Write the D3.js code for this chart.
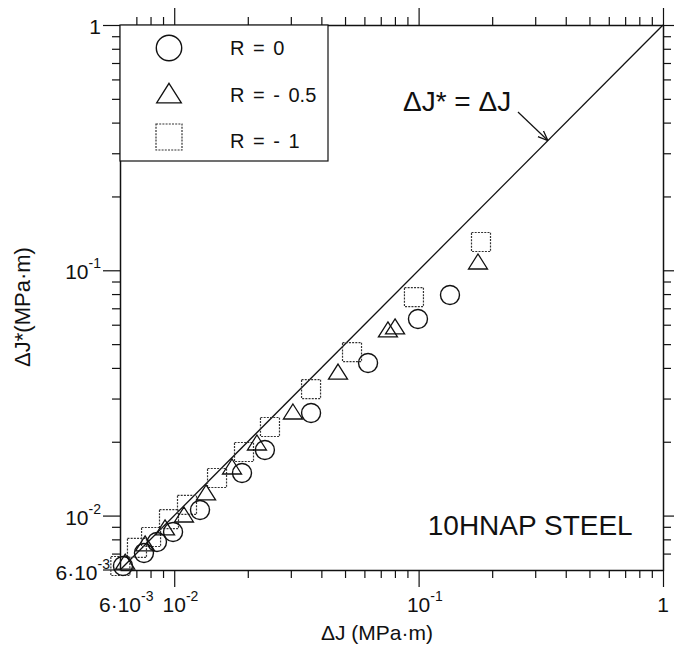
<!DOCTYPE html>
<html>
<head>
<meta charset="utf-8">
<script src="https://cdn.jsdelivr.net/npm/d3@7"></script>
<style>
  body { margin: 0; background: #fff; }
  svg { font-family: "Liberation Sans", Arial, Helvetica, sans-serif; }
</style>
</head>
<body>
<div id="chart"></div>
<script>
// Delta J (x) vs Delta J* (y), MPa·m
const seriesR0 = [
    [0.00617, 0.00623], [0.00752, 0.00704], [0.0085, 0.0078], [0.00989, 0.00857],
    [0.01275, 0.01054], [0.01894, 0.01492], [0.0235, 0.01851], [0.0363, 0.0262],
    [0.0621, 0.0419], [0.0994, 0.0633], [0.1344, 0.0793]
];
const seriesRm05 = [
    [0.0063, 0.0064], [0.0076, 0.00759], [0.00917, 0.00882], [0.01096, 0.00996],
    [0.0135, 0.01225], [0.01724, 0.01563], [0.0218, 0.01958], [0.0306, 0.0262],
    [0.0468, 0.0381], [0.0749, 0.0566], [0.0801, 0.0582], [0.175, 0.1071]
];
const seriesRm1 = [
    [0.00602, 0.00623], [0.00704, 0.00738], [0.00804, 0.00818], [0.00952, 0.00968],
    [0.01128, 0.01105], [0.01497, 0.01423], [0.0193, 0.01816], [0.02465, 0.02297],
    [0.0363, 0.0328], [0.0534, 0.0464], [0.0957, 0.0778], [0.18, 0.1304]
];
const legendLabels = ["R = 0", "R = - 0.5", "R = - 1"];
const diagonal = [[0.006, 0.006], [1, 1]];
const majorTicks = [0.01, 0.1, 1];
const tickLabels = [
    { v: 0.006, base: "6·10", exp: "-3" },
    { v: 0.01, base: "10", exp: "-2" },
    { v: 0.1, base: "10", exp: "-1" },
    { v: 1, base: "1", exp: "" }
];
const xTitle = "ΔJ (MPa·m)";
const yTitle = "ΔJ*(MPa·m)";
const steelLabel = "10HNAP STEEL";
const eqLabel = "ΔJ* = ΔJ";
// annotation anchors in data units
const eqTextAt = [0.0863, 0.446];
const arrowFrom = [0.255, 0.442];
const arrowTo = [0.338, 0.338];
const steelAt = [0.109, 0.00834];

const W = 674, H = 647;
const mLeft = 120, mRight = 663, mTop = 25, mBottom = 570;

const svg = d3.select("#chart").append("svg")
    .attr("width", W).attr("height", H);

const x = d3.scaleLog().domain([0.006, 1]).range([mLeft, mRight]);
const y = d3.scaleLog().domain([0.006, 1]).range([mBottom, mTop]);

const minorTicks = x.ticks().filter(v => !majorTicks.some(m => Math.abs(m - v) < 1e-9) && v > 0.006);

// axes: frame with outward ticks on all four sides
function drawAxis(axisFn, scale, transform) {
    const g = svg.append("g").attr("transform", transform);
    g.call(axisFn(scale).tickValues(minorTicks).tickSize(8).tickSizeOuter(0).tickFormat(""));
    g.append("g").call(axisFn(scale).tickValues(majorTicks).tickSize(17).tickSizeOuter(0).tickFormat(""))
        .select(".domain").remove();
    g.selectAll("line").attr("stroke", "#111").attr("stroke-width", 1.2);
    g.selectAll(".domain").attr("stroke", "#111").attr("stroke-width", 1.5);
}
drawAxis(d3.axisBottom, x, `translate(0,${mBottom})`);
drawAxis(d3.axisTop, x, `translate(0,${mTop})`);
drawAxis(d3.axisLeft, y, `translate(${mLeft},0)`);
drawAxis(d3.axisRight, y, `translate(${mRight},0)`);
// 6e-3 tick on y sits on the bottom axis
svg.append("line").attr("x1", mLeft - 17).attr("x2", mLeft)
    .attr("y1", y(0.006)).attr("y2", y(0.006)).attr("stroke", "#111").attr("stroke-width", 1.2);

// tick labels
tickLabels.forEach(d => {
    const t = svg.append("text").attr("y", mBottom + 42).attr("font-size", 21).attr("fill", "#111");
    const b = t.append("tspan").text(d.base);
    if (d.exp) t.append("tspan").attr("font-size", 14).attr("dy", -11).text(d.exp);
    const bw = b.node().getComputedTextLength();
    t.attr("x", x(d.v) - bw / 2);
});
tickLabels.forEach((d, i) => {
    const t = svg.append("text").attr("x", i === 0 ? 110 : 101).attr("y", y(d.v) + (i === 0 ? 10 : 9))
        .attr("font-size", 21).attr("fill", "#111").attr("text-anchor", "end");
    t.append("tspan").text(d.base);
    if (d.exp) t.append("tspan").attr("font-size", 14).attr("dy", -11).text(d.exp);
});

// titles
svg.append("text").attr("x", 377).attr("y", 640).attr("text-anchor", "middle")
    .attr("font-size", 21).attr("fill", "#111").text(xTitle);
svg.append("text").attr("transform", "translate(30,307) rotate(-90)").attr("text-anchor", "middle")
    .attr("font-size", 22).attr("fill", "#111").text(yTitle);

// diagonal
const line = d3.line().x(d => x(d[0])).y(d => y(d[1]));
svg.append("path").datum(diagonal).attr("d", line)
    .attr("fill", "none").attr("stroke", "#111").attr("stroke-width", 1.3);

// markers
const tri = k => `M0,${-9 * k}L${9.5 * k},${6 * k}L${-9.5 * k},${6 * k}Z`;

function drawSquares(g, data, s) {
    g.selectAll(null).data(data).enter().append("rect")
        .attr("x", d => x(d[0]) - s / 2).attr("y", d => y(d[1]) - s / 2)
        .attr("width", s).attr("height", s)
        .attr("fill", "none").attr("stroke", "#333").attr("stroke-width", 1.2)
        .attr("stroke-dasharray", "2,1.2");
}
function drawTriangles(g, data, k) {
    g.selectAll(null).data(data).enter().append("path")
        .attr("d", tri(k)).attr("transform", d => `translate(${x(d[0])},${y(d[1])})`)
        .attr("fill", "none").attr("stroke", "#111").attr("stroke-width", 1.3);
}
function drawCircles(g, data, r) {
    g.selectAll(null).data(data).enter().append("circle")
        .attr("cx", d => x(d[0])).attr("cy", d => y(d[1])).attr("r", r)
        .attr("fill", "none").attr("stroke", "#111").attr("stroke-width", 1.4);
}
const pts = svg.append("g");
drawSquares(pts, seriesRm1, 19);
drawTriangles(pts, seriesRm05, 1);
drawCircles(pts, seriesR0, 9.5);

// legend
const lg = svg.append("g");
lg.append("rect").attr("x", mLeft).attr("y", mTop).attr("width", 208).attr("height", 136)
    .attr("fill", "#fff").attr("stroke", "#111").attr("stroke-width", 1.2);
const lx = 169, rows = [48, 93, 137];
lg.append("circle").attr("cx", lx).attr("cy", rows[0]).attr("r", 12.7)
    .attr("fill", "none").attr("stroke", "#111").attr("stroke-width", 1.4);
lg.append("path").attr("d", tri(1.3)).attr("transform", `translate(${lx},${rows[1] + 2})`)
    .attr("fill", "none").attr("stroke", "#111").attr("stroke-width", 1.3);
lg.append("rect").attr("x", lx - 13).attr("y", rows[2] - 13).attr("width", 26).attr("height", 26)
    .attr("fill", "none").attr("stroke", "#333").attr("stroke-width", 1.2).attr("stroke-dasharray", "2,1.2");
legendLabels.forEach((t, i) => {
    lg.append("text").attr("x", 230).attr("y", [55, 102, 148][i])
        .attr("font-size", 20).attr("word-spacing", 3).attr("fill", "#111").text(t);
});

// annotation
svg.append("defs").append("marker").attr("id", "arr")
    .attr("viewBox", "0 0 10 10").attr("refX", 10).attr("refY", 5)
    .attr("markerWidth", 10).attr("markerHeight", 10).attr("markerUnits", "userSpaceOnUse")
    .attr("orient", "auto")
    .append("path").attr("d", "M0,1L10,5L0,9").attr("fill", "none").attr("stroke", "#111").attr("stroke-width", 1.3);
svg.append("line")
    .attr("x1", x(arrowFrom[0])).attr("y1", y(arrowFrom[1]))
    .attr("x2", x(arrowTo[0])).attr("y2", y(arrowTo[1]))
    .attr("stroke", "#111").attr("stroke-width", 1.2).attr("marker-end", "url(#arr)");
svg.append("text").attr("x", x(eqTextAt[0])).attr("y", y(eqTextAt[1]))
    .attr("font-size", 28).attr("fill", "#111").text(eqLabel);
svg.append("text").attr("x", x(steelAt[0])).attr("y", y(steelAt[1]))
    .attr("font-size", 28).attr("fill", "#111").text(steelLabel);
</script>
</body>
</html>
